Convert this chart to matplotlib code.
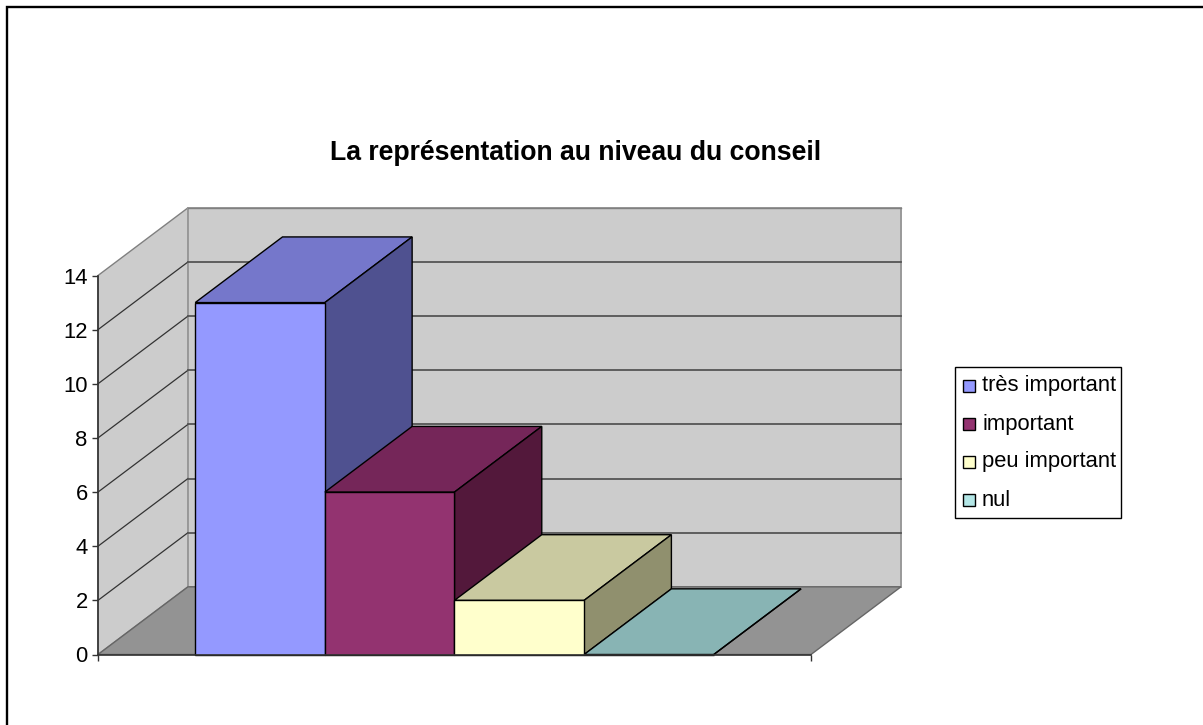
import matplotlib
matplotlib.use('Agg')
import matplotlib.pyplot as plt
from matplotlib.patches import Polygon, Rectangle

plt.rcParams['font.family'] = ['Liberation Sans', 'DejaVu Sans']

title = 'La représentation au niveau du conseil'
series_names = ['très important', 'important', 'peu important', 'nul']
series_values = [13, 6, 2, 0]
yticks = [0, 2, 4, 6, 8, 10, 12, 14]

front_colors = ['#9499ff', '#933370', '#ffffcc', '#b3e6e6']
top_colors = ['#7577cb', '#752659', '#c9c9a0', '#88b4b4']
side_colors = ['#4f5190', '#53183b', '#90906e', '#88b4b4']

# depth of the box in data units (x categories, y values)
dx = 0.694
dy = 2.5
bar_depth = 0.97

W, H = 1203, 725
fig = plt.figure(figsize=(W / 100, H / 100), dpi=100)

# outer frame, cut off on the right and at the bottom
fig.add_artist(plt.Line2D([6.5 / W, 6.5 / W, 1], [0, 1 - 6.5 / H, 1 - 6.5 / H], color='black', lw=1.7,
                          solid_joinstyle='miter', transform=fig.transFigure))

ax = fig.add_axes([98 / W, 1 - 654.5 / H, 713 / W, 379 / H])
ax.set_xlim(-0.75, 4.75)
ax.set_ylim(0, 14)
ax.patch.set_visible(False)
x0, x1 = ax.get_xlim()
ymax = ax.get_ylim()[1]


def face(pts, fc, ec='black', lw=1.0, z=2):
    ax.add_patch(Polygon(pts, closed=True, fc=fc, ec=ec, lw=lw, zorder=z, clip_on=False, joinstyle='miter'))


# walls and floor
face([(x0, 0), (x0 + dx, dy), (x0 + dx, ymax + dy), (x0, ymax)], '#cccccc', ec='#808080', z=1)
face([(x0 + dx, dy), (x1 + dx, dy), (x1 + dx, ymax + dy), (x0 + dx, ymax + dy)], '#cccccc', ec='#999999', lw=1.4, z=1)
face([(x0, 0), (x1, 0), (x1 + dx, dy), (x0 + dx, dy)], '#939393', ec='#666666', z=1)

# gridlines
for t in yticks[1:-1]:
    ax.plot([x0, x0 + dx], [t, t + dy], color='#333333', lw=0.9, zorder=1.5, clip_on=False)
    ax.plot([x0 + dx, x1 + dx], [t + dy, t + dy], color='#555555', lw=1.3, zorder=1.5, clip_on=False)
ax.plot([x0 + dx, x1 + dx], [ymax + dy, ymax + dy], color='#808080', lw=1.0, zorder=1.5, clip_on=False)

# boxes, one category with four series side by side
for i, v in enumerate(series_values):
    a, b = i, i + 1
    ddx, ddy = dx * bar_depth, dy * bar_depth
    face([(a, v), (b, v), (b + ddx, v + ddy), (a + ddx, v + ddy)], top_colors[i], z=3 + i)
    face([(b, 0), (b + ddx, ddy), (b + ddx, v + ddy), (b, v)], side_colors[i], z=3 + i)
    face([(a, 0), (b, 0), (b, v), (a, v)], front_colors[i], z=3 + i)

for s in ['top', 'right']:
    ax.spines[s].set_visible(False)
for s in ['left', 'bottom']:
    ax.spines[s].set_color('#333333')
    ax.spines[s].set_linewidth(1.2)
    ax.spines[s].set_zorder(10)
ax.set_xticks([x0, x1])
ax.set_xticklabels([])
ax.set_yticks(yticks)
ax.tick_params(axis='both', length=4.3, width=1, color='#333333', labelsize=15.8, pad=3)

fig.text(575.5 / W, 1 - 159.5 / H, title, ha='center', va='baseline', fontsize=19.2, fontweight='bold')

# legend box
fig.patches.append(Rectangle((955 / W, 1 - 518 / H), 166 / W, 151 / H, transform=fig.transFigure,
                             fc='white', ec='black', lw=1.0))
for i, name in enumerate(series_names):
    yc = 386 + i * 38
    fig.patches.append(Rectangle((963 / W, 1 - (yc + 6) / H), 12 / W, 12 / H, transform=fig.transFigure,
                                 fc=front_colors[i], ec='black', lw=1.0))
    fig.text(982 / W, 1 - (yc + 5.5) / H, name, ha='left', va='baseline', fontsize=15.8)

fig.savefig('out.png', dpi=100)
